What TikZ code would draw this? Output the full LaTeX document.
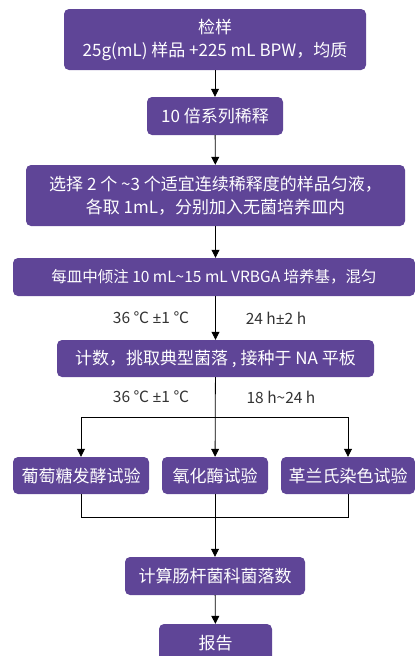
\documentclass[tikz,border=0pt]{standalone}
\usepackage{fontspec}
\setmainfont{Noto Sans CJK SC}
\newfontfamily\latinsans{Noto Sans}
\usetikzlibrary{arrows.meta}
\definecolor{procpurple}{HTML}{5F4597}
\definecolor{condgray}{HTML}{333333}
\newcommand{\plusminus}{{\latinsans ±}}
\tikzset{
    procbox/.style={fill=procpurple, rounded corners=5pt, text=white, align=center, inner sep=0pt, font=\fontsize{17}{23}\selectfont},
    cond/.style={text=condgray, font=\fontsize{15.5}{18}\selectfont},
    conn/.style={line width=0.8pt, black},
    flow/.style={conn, -{Triangle[width=8pt, length=8pt]}}
}

\begin{document}
\begin{tikzpicture}[x=1pt, y=-1pt]
    \useasboundingbox (0,0) rectangle (415,656);
    % main column
    \node[procbox, minimum width=302pt, minimum height=61pt] (jianyang) at (215,39.5) {检样\\25g(mL) 样品 +225 mL BPW，均质};
    \node[procbox, minimum width=136pt, minimum height=38pt] (xishi) at (215,116) {10 倍系列稀释};
    \node[procbox, minimum width=379pt, minimum height=61pt] (xuanze) at (215.5,195.5) {选择 2 个 \textasciitilde3 个适宜连续稀释度的样品匀液，\\各取 1mL，分别加入无菌培养皿内};
    \node[procbox, minimum width=402pt, minimum height=38pt, font=\fontsize{15.5}{20}\selectfont] (qingzhu) at (214,277) {每皿中倾注 10 mL\textasciitilde15 mL VRBGA 培养基，混匀};
    \node[procbox, minimum width=317pt, minimum height=37pt] (jishu) at (215.5,358.5) {计数，挑取典型菌落 , 接种于 NA 平板};
    % three tests
    \node[procbox, minimum width=136pt, minimum height=37pt] (putao) at (81,475.5) {葡萄糖发酵试验};
    \node[procbox, minimum width=106pt, minimum height=37pt] (yanghua) at (215,475.5) {氧化酶试验};
    \node[procbox, minimum width=134pt, minimum height=37pt] (gelan) at (348,475.5) {革兰氏染色试验};
    \node[procbox, minimum width=180pt, minimum height=38pt] (jisuan) at (215,576) {计算肠杆菌科菌落数};
    \node[procbox, minimum width=113pt, minimum height=38pt] (baogao) at (215.5,643) {报告};

    % culture conditions
    \node[cond] (wendu1) at (151,318) {36 ℃ \plusminus1 ℃};
    \node[cond] (shijian1) at (276,318) {24 h\plusminus2 h};
    \node[cond] (wendu2) at (151,397) {36 ℃ \plusminus1 ℃};
    \node[cond] (shijian2) at (281,397) {18 h\textasciitilde24 h};

    \draw[flow] (jianyang) -- (xishi);
    \draw[flow] (xishi) -- (xuanze);
    \draw[flow] (xuanze) -- (qingzhu.north -| xuanze);
    \draw[flow] (qingzhu.south -| jishu) -- (jishu);

    % split and merge
    \coordinate (fenzhi) at (215,417);
    \coordinate (huizong) at (215,517);
    \draw[flow] (jishu) -- (yanghua);
    \draw[conn] (fenzhi -| putao) -- (fenzhi -| gelan);
    \draw[flow] (fenzhi -| putao) -- (putao);
    \draw[flow] (fenzhi -| gelan) -- (gelan);
    \draw[conn] (putao) -- (putao |- huizong) -- (gelan |- huizong) -- (gelan);
    \draw[conn] (yanghua) -- (huizong);
    \draw[flow] (huizong) -- (jisuan);
    \draw[flow] (jisuan) -- (baogao);
\end{tikzpicture}
\end{document}
